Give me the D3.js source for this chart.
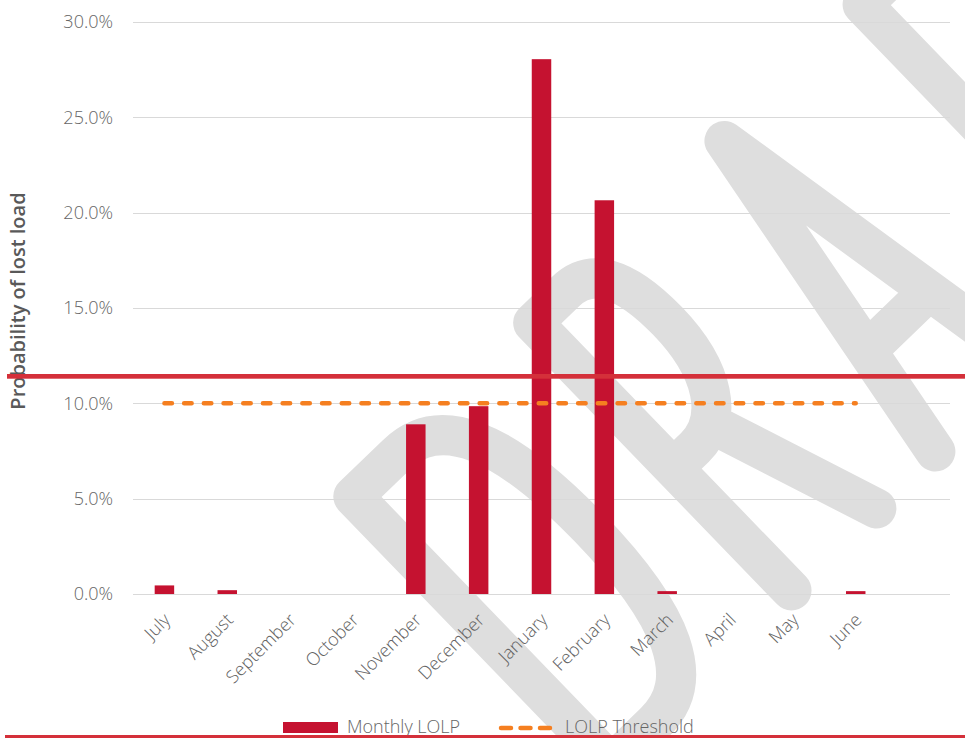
<!DOCTYPE html>
<html><head><meta charset="utf-8">
<script src="https://cdn.jsdelivr.net/npm/d3@7"></script>
<style>
html,body{margin:0;padding:0;background:#fff;overflow:hidden}
svg{display:block}
text{font-family:"Open Sans","Segoe UI",sans-serif}
</style>
</head><body>
<svg id="chart" width="965" height="738"></svg>
<script>
// ---- data ----
const months = ["July","August","September","October","November","December","January","February","March","April","May","June"];
const monthlyLOLP = [0.45,0.2,0,0,8.9,9.85,28.05,20.65,0.15,0,0,0.15];   // percent
const lolpThreshold = [10,10,10,10,10,10,10,10,10,10,10,10];               // percent
const yTicks = [0,5,10,15,20,25,30];
const seriesNames = ["Monthly LOLP","LOLP Threshold"];
const axisTitle = "Probability of lost load";
const watermarkText = "DRAFT";

// ---- layout ----
const plot = {left:133, right:950, top:22, bottom:594};
const svg = d3.select("#chart");
const step = (plot.right - plot.left) / (months.length + 1);
const x = d3.scaleBand().domain(months)
  .range([plot.left, plot.left + step * months.length])
  .paddingInner(0.69).paddingOuter(0.345);
const y = d3.scaleLinear().domain([0,30]).range([plot.bottom, plot.top]);

// ---- watermark (drawn as stroked letter shapes) ----
const wm = svg.append("g")
  .attr("aria-label", watermarkText)
  .attr("transform","translate(325,496) rotate(-44)")
  .attr("fill","none").attr("stroke","#dedede").attr("stroke-width",40)
  .attr("stroke-linecap","round").attr("stroke-linejoin","round");
wm.append("title").text(watermarkText);
const glyphs = [
  "M20,20 V392 H80 C140,392 168,330 168,206 C168,82 140,20 80,20 Z",
  "M270,392 V20 H315 C350,20 368,50 368,112 C368,180 340,222 300,222 H270 M330,222 L388,392",
  "M470,392 L534,22 L598,392 M491,272 H577",
  "M728,392 V20 H860 M728,210 H840",
  "M880,20 H1050 M965,20 V392"
];
wm.selectAll("path").data(glyphs).join("path").attr("d", d => d);

// ---- gridlines ----
svg.append("g").selectAll("line").data(yTicks).join("line")
  .attr("x1", plot.left).attr("x2", plot.right)
  .attr("y1", d => Math.round(y(d)) + 0.5).attr("y2", d => Math.round(y(d)) + 0.5)
  .attr("stroke", "#d9d9d9").attr("stroke-width", 1);

// ---- y axis labels ----
const yAxis = svg.append("g").attr("transform", `translate(${plot.left},0)`)
  .call(d3.axisLeft(y).tickValues(yTicks).tickSize(0).tickPadding(20)
    .tickFormat(d => d.toFixed(1) + "%"));
yAxis.select(".domain").remove();
yAxis.selectAll("text").attr("font-size", 18).attr("font-weight", 300)
  .attr("fill", "#666").attr("font-family", '"Open Sans",sans-serif');

// ---- x axis labels ----
const xAxis = svg.append("g").attr("transform", `translate(0,${plot.bottom})`)
  .call(d3.axisBottom(x).tickSize(0).tickPadding(0));
xAxis.select(".domain").remove();
xAxis.selectAll("text")
  .attr("x", 0).attr("y", 0).attr("dy", 0)
  .attr("text-anchor", "end")
  .attr("transform", "translate(7,27) rotate(-45)")
  .attr("font-size", 18).attr("font-weight", 300)
  .attr("fill", "#626262").attr("font-family", '"Open Sans",sans-serif');

// ---- bars ----
svg.append("g").selectAll("rect").data(months).join("rect")
  .attr("x", d => x(d)).attr("width", x.bandwidth())
  .attr("y", (d,i) => y(monthlyLOLP[i]))
  .attr("height", (d,i) => y(0) - y(monthlyLOLP[i]))
  .attr("fill", "#c51230");

// ---- threshold line ----
const line = d3.line().x((d,i) => x(months[i]) + x.bandwidth()/2).y(d => y(d));
svg.append("path").datum(lolpThreshold).attr("d", line)
  .attr("fill","none").attr("stroke","#f57f20").attr("stroke-width",4.5)
  .attr("stroke-linecap","round").attr("stroke-dasharray","7.5,12.2");

// ---- y axis title ----
svg.append("text").attr("transform","translate(25,301) rotate(-90)")
  .attr("text-anchor","middle").attr("font-size",20).attr("font-weight",600)
  .attr("fill","#595959").text(axisTitle);

// ---- legend ----
const lg = svg.append("g");
lg.append("rect").attr("x",283).attr("y",722).attr("width",55).attr("height",11).attr("fill","#c51230");
lg.append("text").attr("x",347).attr("y",733).attr("font-size",18).attr("font-weight",300)
  .attr("fill","#666").text(seriesNames[0]);
lg.append("line").attr("x1",501).attr("x2",551).attr("y1",728).attr("y2",728)
  .attr("stroke","#f57f20").attr("stroke-width",4.5).attr("stroke-linecap","round")
  .attr("stroke-dasharray","10,9.5");
lg.append("text").attr("x",565).attr("y",733).attr("font-size",18).attr("font-weight",300)
  .attr("fill","#666").text(seriesNames[1]);

// ---- red rules ----
svg.append("rect").attr("x",7).attr("y",374).attr("width",958).attr("height",4.7).attr("fill","#d4303a");
svg.append("rect").attr("x",5).attr("y",735).attr("width",960).attr("height",3).attr("fill","#d4303a");
</script>
</body></html>
